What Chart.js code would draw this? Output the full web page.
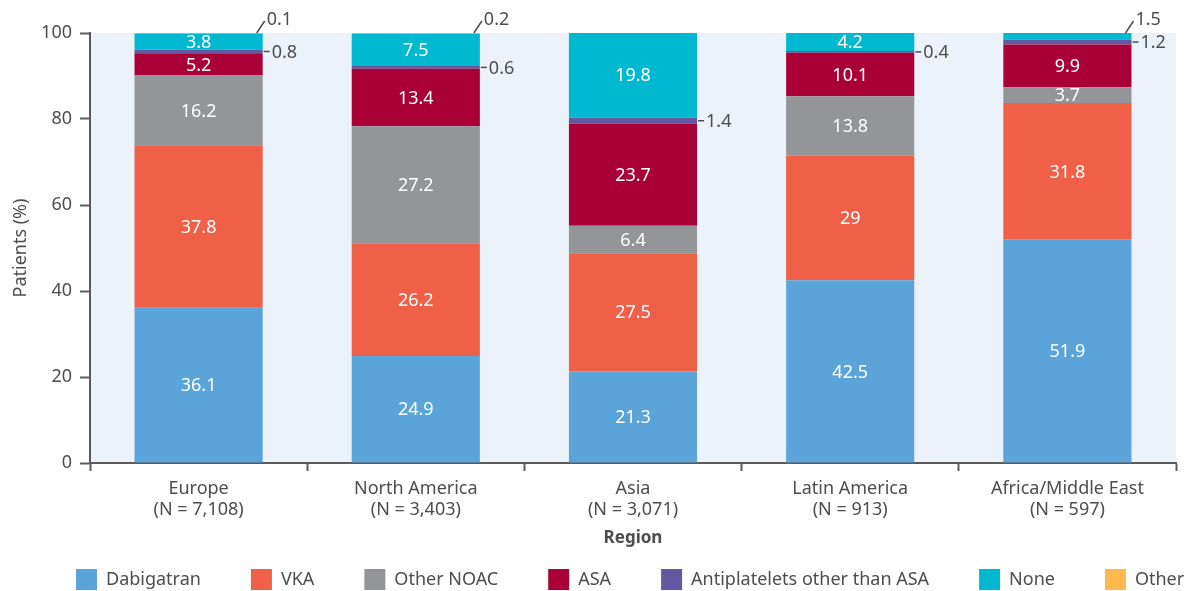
<!DOCTYPE html>
<html><head><meta charset="utf-8">
<script src="https://cdn.jsdelivr.net/npm/chart.js@4/dist/chart.umd.min.js"></script>
<style>html,body{margin:0;padding:0;background:#fff;overflow:hidden}#wrap{width:1191px;height:591px;position:relative}</style>
</head><body><div id="wrap"><canvas id="c"></canvas></div>
<script>
const regions = ['Europe', 'North America', 'Asia', 'Latin America', 'Africa/Middle East'];
const regionN = ['(N = 7,108)', '(N = 3,403)', '(N = 3,071)', '(N = 913)', '(N = 597)'];
const seriesNames = ['Dabigatran', 'VKA', 'Other NOAC', 'ASA', 'Antiplatelets other than ASA', 'None', 'Other'];
const dabigatran = [36.1, 24.9, 21.3, 42.5, 51.9];
const vka = [37.8, 26.2, 27.5, 29, 31.8];
const otherNoac = [16.2, 27.2, 6.4, 13.8, 3.7];
const asa = [5.2, 13.4, 23.7, 10.1, 9.9];
const antiplatelets = [0.8, 0.6, 1.4, 0.4, 1.2];
const none = [3.8, 7.5, 19.8, 4.2, 1.5];
const other = [0.1, 0.2, 0, 0, 0];
const yTicks = [0, 20, 40, 60, 80, 100];
const colors = ['#5BA4DA', '#F05F47', '#939598', '#AA0038', '#6459A0', '#00B8CF', '#FDB94E'];

const seriesValues = [dabigatran, vka, otherNoac, asa, antiplatelets, none, other];
const FONT = "'Noto Sans', 'DejaVu Sans', sans-serif";
const TEXT = '#4d4d4d';
const AXIS = '#5a5a5a';
const LEGEND_PAD = 50;

Chart.defaults.font.family = FONT;
Chart.defaults.color = TEXT;

const bgPlugin = {
  id: 'plotBg',
  beforeDraw(chart) {
    const a = chart.chartArea, ctx = chart.ctx;
    ctx.save();
    ctx.fillStyle = '#EBF2FA';
    ctx.fillRect(a.left, a.top, a.right - a.left, a.bottom - a.top);
    ctx.restore();
  }
};

// keep the legend on one row, starting at the reference's left edge
const legendPlace = {
  id: 'legendPlace',
  afterLayout(chart) {
    const lg = chart.legend;
    if (!lg) return;
    lg.left = 76 - LEGEND_PAD;
    lg.right = chart.width + 300;
  }
};

const labelPlugin = {
  id: 'segLabels',
  afterDatasetsDraw(chart) {
    const ctx = chart.ctx;
    const sets = chart.data.datasets;
    ctx.save();
    ctx.font = "18px " + FONT;
    ctx.textBaseline = 'middle';
    for (let j = 0; j < chart.data.labels.length; j++) {
      let top = -1;
      sets.forEach((d, i) => { if (d.data[j] > 0) top = i; });
      sets.forEach((d, i) => {
        const v = d.data[j];
        if (!v) return;
        const el = chart.getDatasetMeta(i).data[j];
        const right = el.x + el.width / 2;
        const yTop = Math.max(el.y, chart.chartArea.top);
        const yMid = (yTop + el.base) / 2;
        const txt = String(v);
        if (v >= 2) {
          ctx.fillStyle = '#ffffff';
          ctx.textAlign = 'center';
          ctx.fillText(txt, el.x, yMid + 1);
        } else if (i === top) {
          ctx.strokeStyle = TEXT; ctx.lineWidth = 1.5;
          ctx.beginPath(); ctx.moveTo(right - 6, yTop); ctx.lineTo(right + 2, yTop - 12); ctx.stroke();
          ctx.fillStyle = TEXT; ctx.textAlign = 'left';
          ctx.fillText(txt, right + 4, yTop - 13);
        } else {
          ctx.strokeStyle = TEXT; ctx.lineWidth = 1.5;
          ctx.beginPath(); ctx.moveTo(right + 1, yMid); ctx.lineTo(right + 7, yMid); ctx.stroke();
          ctx.fillStyle = TEXT; ctx.textAlign = 'left';
          ctx.fillText(txt, right + 9, yMid + 1);
        }
      });
    }
    ctx.restore();
  }
};

new Chart(document.getElementById('c'), {
  type: 'bar',
  data: {
    labels: regions.map((r, i) => [r, regionN[i]]),
    datasets: seriesNames.map((name, i) => ({
      label: name,
      data: seriesValues[i],
      backgroundColor: colors[i],
      borderWidth: 0,
      categoryPercentage: 1,
      barPercentage: 0.59
    }))
  },
  plugins: [bgPlugin, legendPlace, labelPlugin],
  options: {
    responsive: true,
    maintainAspectRatio: false,
    animation: false,
    devicePixelRatio: 1,
    layout: { padding: { left: 0, right: 15, top: 33, bottom: 0 } },
    plugins: {
      legend: {
        position: 'bottom',
        align: 'start',
        maxHeight: LEGEND_PAD + 22,
        labels: { boxWidth: 21, boxHeight: 21, padding: LEGEND_PAD, color: TEXT, font: { size: 18 } }
      },
      tooltip: { enabled: false }
    },
    scales: {
      x: {
        stacked: true,
        grid: { offset: true, drawOnChartArea: false, drawTicks: true, tickLength: 8, tickColor: AXIS, tickWidth: 2 },
        border: { display: true, color: AXIS, width: 2 },
        ticks: { color: TEXT, font: { size: 18, lineHeight: 1.15 }, padding: 8, maxRotation: 0, autoSkip: false },
        title: { display: true, text: 'Region', color: TEXT, font: { size: 17, weight: 'bold' }, padding: { top: 0, bottom: -29.5 } },
        afterFit(s) { s.height = 56; }
      },
      y: {
        stacked: true,
        min: 0, max: 100,
        afterBuildTicks(s) { s.ticks = yTicks.map(v => ({ value: v })); },
        grid: { drawOnChartArea: false, drawTicks: true, tickLength: 10, tickColor: AXIS, tickWidth: 2 },
        border: { display: true, color: AXIS, width: 2 },
        ticks: { color: TEXT, font: { size: 18 }, padding: 8 },
        title: { display: true, text: 'Patients (%)', color: TEXT, font: { size: 18 }, padding: { top: 10, bottom: 0 } },
        afterFit(s) { s.width = 90; }
      }
    }
  }
});
</script>
</body></html>
